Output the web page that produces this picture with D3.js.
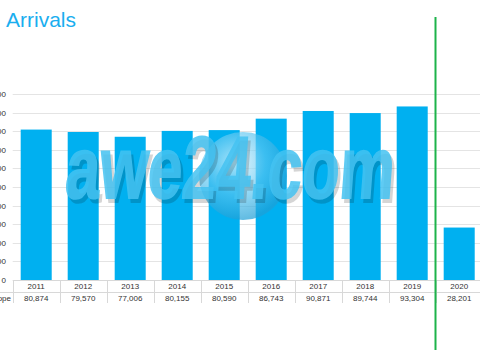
<!DOCTYPE html>
<html>
<head>
<meta charset="utf-8">
<script src="https://cdn.jsdelivr.net/npm/d3@7"></script>
<style>
  body { margin: 0; background: #fff; }
  svg { display: block; font-family: "Liberation Sans", Arial, sans-serif; }
</style>
</head>
<body>
<svg width="480" height="360"></svg>
<script>
// data
var years = ["2011", "2012", "2013", "2014", "2015", "2016", "2017", "2018", "2019", "2020"];
var arrivals = [80874, 79570, 77006, 80155, 80590, 86743, 90871, 89744, 93304, 28201];
var yTicks = [0, 10000, 20000, 30000, 40000, 50000, 60000, 70000, 80000, 90000, 100000];
var rowLabel = "Europe";

var width = 480, height = 360;
var svg = d3.select("svg");

var x = d3.scaleBand()
          .domain(years)
          .range([12.7, 482.7])
          .paddingInner(0.34)
          .paddingOuter(0.17);

var y = d3.scaleLinear()
          .domain([0, 100000])
          .range([280, 94]);

var fmt = d3.format(",");

// title
svg.append("text")
   .attr("x", 6)
   .attr("y", 27)
   .attr("font-size", 21)
   .attr("fill", "#1aaeef")
   .text("Arrivals");

// gridlines
svg.append("g")
   .selectAll("line")
   .data(yTicks.slice(1))
   .join("line")
     .attr("x1", 12.7)
     .attr("x2", width)
     .attr("y1", d => Math.round(y(d)) + 0.5)
     .attr("y2", d => Math.round(y(d)) + 0.5)
     .attr("stroke", "#e4e4e4");

// y labels (cut off at left like the picture)
svg.append("g")
   .selectAll("text")
   .data(yTicks)
   .join("text")
     .attr("x", 6)
     .attr("y", d => y(d) + 3)
     .attr("text-anchor", "end")
     .attr("font-size", 8)
     .attr("fill", "#333")
     .text(d => fmt(d));

// bars
svg.append("g")
   .selectAll("rect")
   .data(arrivals)
   .join("rect")
     .attr("x", (d, i) => x(years[i]))
     .attr("width", x.bandwidth())
     .attr("y", d => y(d))
     .attr("height", d => y(0) - y(d))
     .attr("fill", "#00b0f0");

// data table under the plot
var table = svg.append("g").attr("stroke", "#d8d8d8");
table.append("line")
     .attr("x1", 12.7).attr("x2", width)
     .attr("y1", 280.5).attr("y2", 280.5);
table.append("line")
     .attr("x1", 0).attr("x2", width)
     .attr("y1", 292.5).attr("y2", 292.5);
table.selectAll(".vline")
     .data(years)
     .join("line")
       .classed("vline", true)
       .attr("x1", d => Math.round(x(d) - (x.step() - x.bandwidth()) / 2) + 0.5)
       .attr("x2", d => Math.round(x(d) - (x.step() - x.bandwidth()) / 2) + 0.5)
       .attr("y1", 280)
       .attr("y2", 303);

svg.append("g")
   .selectAll("text")
   .data(years)
   .join("text")
     .attr("x", d => x(d) + x.bandwidth() / 2)
     .attr("y", 289)
     .attr("text-anchor", "middle")
     .attr("font-size", 8)
     .attr("fill", "#333")
     .text(d => d);

svg.append("g")
   .selectAll("text")
   .data(arrivals)
   .join("text")
     .attr("x", (d, i) => x(years[i]) + x.bandwidth() / 2)
     .attr("y", 301)
     .attr("text-anchor", "middle")
     .attr("font-size", 8)
     .attr("fill", "#333")
     .text(d => fmt(d));

svg.append("text")
   .attr("x", 11)
   .attr("y", 301)
   .attr("text-anchor", "end")
   .attr("font-size", 8)
   .attr("fill", "#333")
   .text(rowLabel);

// watermark
var defs = svg.append("defs");
var grad = defs.append("radialGradient")
   .attr("id", "ball")
   .attr("cx", "40%").attr("cy", "35%").attr("r", "65%");
grad.append("stop").attr("offset", "0%").attr("stop-color", "#e6f6fd").attr("stop-opacity", 0.75);
grad.append("stop").attr("offset", "55%").attr("stop-color", "#5cc6f1").attr("stop-opacity", 0.65);
grad.append("stop").attr("offset", "100%").attr("stop-color", "#1f9fd6").attr("stop-opacity", 0.7);

var wm = svg.append("g");
wm.append("circle")
  .attr("cx", 243).attr("cy", 176).attr("r", 44)
  .attr("fill", "url(#ball)");

var wmText = wm.append("g").attr("transform", "translate(64,198) scale(0.7,1) skewX(-6)");
wmText.append("text")
  .attr("x", 4).attr("y", 4)
  .attr("font-size", 88)
  .attr("font-weight", "bold")
  .attr("fill", "#000")
  .attr("stroke", "#000")
  .attr("stroke-width", 2)
  .attr("opacity", 0.16)
  .text("awe24.com");
wmText.append("text")
  .attr("font-size", 88)
  .attr("font-weight", "bold")
  .attr("fill", "#45c3f2")
  .attr("stroke", "#45c3f2")
  .attr("stroke-width", 2)
  .attr("opacity", 0.85)
  .text("awe24.com");

// green divider before 2020
var xDiv = Math.round(x("2020") - (x.step() - x.bandwidth()) / 2) - 0.5;
svg.append("line")
   .attr("x1", xDiv).attr("x2", xDiv)
   .attr("y1", 17).attr("y2", 350)
   .attr("stroke", "#1db34a")
   .attr("stroke-width", 2);
</script>
</body>
</html>
